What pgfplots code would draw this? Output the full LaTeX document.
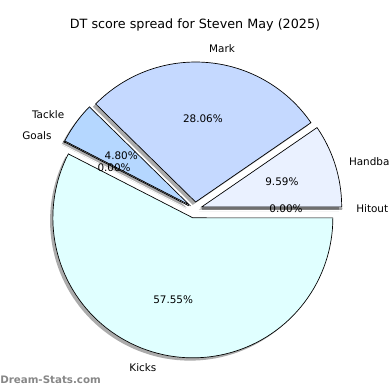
\documentclass[border=0pt]{standalone}
\usepackage{pgfplots}
\pgfplotsset{compat=1.18}
\usepackage{fontspec}
\setmainfont{DejaVu Sans}
\definecolor{cHit}{RGB}{240,244,255}
\definecolor{cHand}{RGB}{234,241,255}
\definecolor{cMark}{RGB}{197,217,255}
\definecolor{cTack}{RGB}{181,215,255}
\definecolor{cGoal}{RGB}{160,200,255}
\definecolor{cKick}{RGB}{224,255,255}
\tikzset{lab/.style={font=\fontsize{7.6}{9}\selectfont, inner sep=0pt}}
% #1 start (%), #2 end (%), #3 explode, #4 colour
\newcommand\pieslice[4]{%
  \pgfmathsetmacro\sa{#1*3.6}%
  \pgfmathsetmacro\ea{max(#2*3.6,\sa+0.01)}%
  \pgfmathsetmacro\ma{(#1+#2)*1.8}%
  \pgfmathsetmacro\dx{#3*cos(\ma)}%
  \pgfmathsetmacro\dy{#3*sin(\ma)}%
  \pgfmathsetmacro\sx{\dx-0.02}%
  \pgfmathsetmacro\sy{\dy-0.02}%
  \edef\tmp{%
    \noexpand\addplot[draw=none,fill=black,fill opacity=0.33,domain=\sa:\ea,samples=90]
      ({\sx+cos(x)},{\sy+sin(x)}) -- (axis cs:\sx,\sy) -- cycle;
    \noexpand\addplot[draw=black,line width=0.5pt,fill=#4,domain=\sa:\ea,samples=90]
      ({\dx+cos(x)},{\dy+sin(x)}) -- (axis cs:\dx,\dy) -- cycle;
  }\tmp
}
% #1 start (%), #2 end (%), #3 explode, #4 label, #5 percentage text
\newcommand\pielabel[5]{%
  \pgfmathsetmacro\ma{(#1+#2)*1.8}%
  \pgfmathsetmacro\lx{(1.1+#3)*cos(\ma)}%
  \pgfmathsetmacro\ly{(1.1+#3)*sin(\ma)}%
  \pgfmathsetmacro\px{(0.6+#3)*cos(\ma)}%
  \pgfmathsetmacro\py{(0.6+#3)*sin(\ma)}%
  \ifdim\lx pt>0pt \def\anc{west}\else\def\anc{east}\fi
  \edef\tmp{%
    \noexpand\node[lab,anchor=\anc] at (axis cs:\lx,\ly) {#4};
    \noexpand\node[lab] at (axis cs:\px,\py) {#5};
  }\tmp
}
\begin{document}
\begin{tikzpicture}
\useasboundingbox (0,0) rectangle (10cm,10cm);
\begin{axis}[at={(0,0)},anchor=south west,scale only axis,
  width=10cm,height=10cm,
  xmin=-1.392857,xmax=1.392857,ymin=-1.292857,ymax=1.492857,
  hide axis,clip=false,no markers]
\pieslice{0}{0}{0.05}{cHit}
\pieslice{0}{9.59}{0.05}{cHand}
\pieslice{9.59}{37.65}{0.05}{cMark}
\pieslice{37.65}{42.45}{0.05}{cTack}
\pieslice{42.45}{42.45}{0.05}{cGoal}
\pieslice{42.45}{100}{0.065}{cKick}
\pielabel{0}{0}{0.05}{Hitout}{0.00\%}
\pielabel{0}{9.59}{0.05}{Handball}{9.59\%}
\pielabel{9.59}{37.65}{0.05}{Mark}{28.06\%}
\pielabel{37.65}{42.45}{0.05}{Tackle}{4.80\%}
\pielabel{42.45}{42.45}{0.05}{Goals}{0.00\%}
\pielabel{42.45}{100}{0.065}{Kicks}{57.55\%}
\node[font=\fontsize{9.3}{11}\selectfont] at (axis cs:0,1.314) {DT score spread for Steven May (2025)};
\node[font=\fontsize{7.5}{9}\selectfont\bfseries,text=black!47,anchor=west,inner sep=0pt] at (axis cs:-1.392857,-1.221) {Dream-Stats.com};
\end{axis}
\end{tikzpicture}
\end{document}
